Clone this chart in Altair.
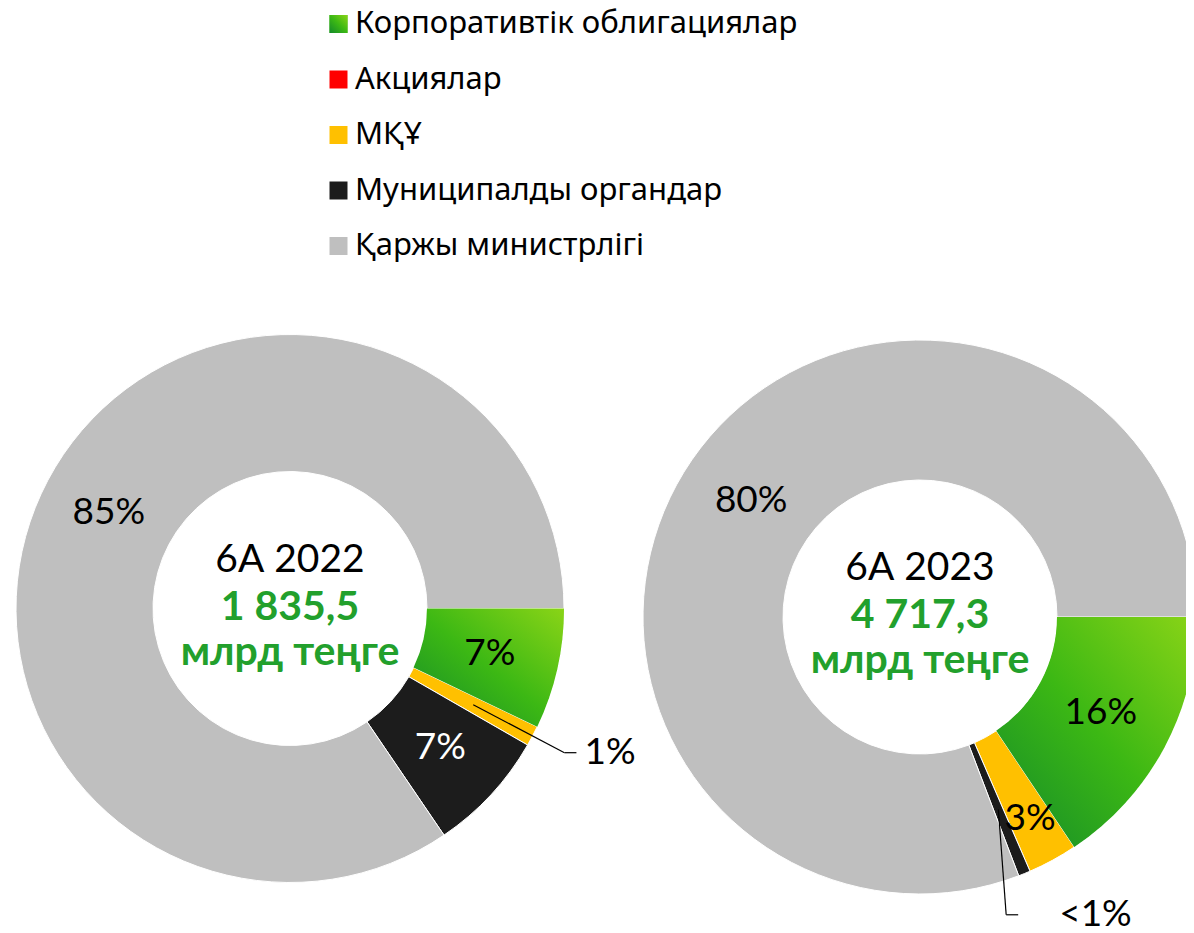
import math
import pandas as pd
import altair as alt

# ---------------- data ----------------
categories = [
    "Корпоративтік облигациялар",
    "Акциялар",
    "МҚҰ",
    "Муниципалды органдар",
    "Қаржы министрлігі",
]
colors = ["#3cb814", "#ff0000", "#ffc000", "#1c1c1c", "#bfbfbf"]
share_2022 = [7.1, 0.0, 1.2, 7.2, 84.5]
share_2023 = [15.6, 0.0, 2.9, 0.7, 80.8]
labels_2022 = ["7%", "", "1%", "7%", "85%"]
labels_2023 = ["16%", "", "3%", "<1%", "80%"]
titles = ["6А 2022", "6А 2023"]
totals = ["1 835,5", "4 717,3"]
unit = "млрд теңге"
callout_cat = ["МҚҰ", "Муниципалды органдар"]

# ---------------- layout ----------------
W, H = 1178, 925
centers = [(282, 600.5), (912, 609)]
outer_r = [274, 277]
inner_r = 137
label_r = 205
label_r_override = {(1, "МҚҰ"): 230}
callout_geom = [  # anchor radius, elbow radius, elbow angle shift (deg), tick, gap
    dict(r0=207, r1=310, dth=0.0, tick=12, gap=8),
    dict(r0=208, r1=310, dth=6.0, tick=12, gap=41),
]
FONT = "Lato"
LEG_FONT = "Noto Sans"
GREEN_TXT = "#22a02c"
PCT_SIZE = 37

green_grad = alt.Gradient(
    gradient="linear",
    stops=[
        alt.GradientStop(color="#8ad417", offset=0),
        alt.GradientStop(color="#3cb814", offset=0.5),
        alt.GradientStop(color="#138a2a", offset=1),
    ],
    x1=1, y1=0, x2=0, y2=1,
)

theta_scale = alt.Scale(domain=[0, 100], range=[math.pi / 2, math.pi / 2 + 2 * math.pi])
color_scale = alt.Scale(domain=categories, range=colors)


def polar(cx, cy, r, pct, shift_deg=0.0):
    th = math.pi / 2 + 2 * math.pi * pct / 100 + math.radians(shift_deg)
    return cx + r * math.sin(th), cy - r * math.cos(th)


layers = []
rule_rows = []
callout_text_rows = []
title_rows = []
bold_rows = []

for d, (shares, labels) in enumerate([(share_2022, labels_2022), (share_2023, labels_2023)]):
    cx, cy = centers[d]
    rows = []
    acc = 0.0
    for cat, v, lab in zip(categories, shares, labels):
        start, end = acc, acc + v
        acc = end
        rows.append(dict(cat=cat, start=start, end=end, mid=(start + end) / 2, label=lab,
                         lr=label_r_override.get((d, cat), label_r),
                         lc="white" if cat == "Муниципалды органдар" else "black"))
    df = pd.DataFrame(rows)
    df_arcs = df[df["end"] > df["start"]]

    base = alt.Chart(df_arcs)
    arcs = base.mark_arc(radius=outer_r[d], radius2=inner_r, stroke="white", strokeWidth=1).encode(
        theta=alt.Theta("start:Q", scale=theta_scale),
        theta2="end:Q",
        color=alt.Color("cat:N", scale=color_scale, legend=None),
        x=alt.value(cx),
        y=alt.value(cy),
    )
    grad = base.transform_filter(alt.datum.cat == categories[0]).mark_arc(
        radius=outer_r[d], radius2=inner_r, fill=green_grad
    ).encode(
        theta=alt.Theta("start:Q", scale=theta_scale),
        theta2="end:Q",
        x=alt.value(cx),
        y=alt.value(cy),
    )
    inside = df[(df["label"] != "") & (df["cat"] != callout_cat[d])]
    txt = alt.Chart(inside).mark_text(font=FONT, fontSize=PCT_SIZE, baseline="middle", align="center").encode(
        theta=alt.Theta("mid:Q", scale=theta_scale),
        radius=alt.Radius("lr:Q", scale=None),
        text="label:N",
        color=alt.Color("lc:N", scale=None),
        x=alt.value(cx),
        y=alt.value(cy),
    )
    layers += [arcs, grad, txt]

    # callout
    row = df[df["cat"] == callout_cat[d]].iloc[0]
    g = callout_geom[d]
    ax, ay = polar(cx, cy, g["r0"], row["mid"])
    ex, ey = polar(cx, cy, g["r1"], row["mid"], g["dth"])
    rule_rows.append(dict(x=ax, y=ay, x2=ex, y2=ey))
    rule_rows.append(dict(x=ex, y=ey, x2=ex + g["tick"], y2=ey))
    callout_text_rows.append(dict(x=ex + g["tick"] + g["gap"], y=ey, label=row["label"]))

    # centre texts
    title_rows.append(dict(t=titles[d], x=cx, y=cy - 37))
    bold_rows.append(dict(t=totals[d], x=cx, y=cy + 11))
    bold_rows.append(dict(t=unit, x=cx, y=cy + 56))

layers.append(alt.Chart(pd.DataFrame(title_rows)).mark_text(
    font=FONT, fontSize=39, color="black", align="center", baseline="alphabetic").encode(
    text="t:N", x=alt.X("x:Q", scale=None), y=alt.Y("y:Q", scale=None)))
layers.append(alt.Chart(pd.DataFrame(bold_rows)).mark_text(
    font=FONT, fontSize=41, fontWeight="bold", color=GREEN_TXT, align="center", baseline="alphabetic").encode(
    text="t:N", x=alt.X("x:Q", scale=None), y=alt.Y("y:Q", scale=None)))

rules = alt.Chart(pd.DataFrame(rule_rows)).mark_rule(color="black", strokeWidth=1.2).encode(
    x=alt.X("x:Q", scale=None), y=alt.Y("y:Q", scale=None), x2="x2:Q", y2="y2:Q")
ctext = alt.Chart(pd.DataFrame(callout_text_rows)).mark_text(
    font=FONT, fontSize=PCT_SIZE, align="left", baseline="middle", color="black").encode(
    x=alt.X("x:Q", scale=None), y=alt.Y("y:Q", scale=None), text="label:N")
layers += [rules, ctext]

# legend
leg = pd.DataFrame(dict(cat=categories))
leg_y = alt.Y("cat:N", sort=categories,
              scale=alt.Scale(type="point", domain=categories, range=[16, 238], padding=0), axis=None)
leg_sq = alt.Chart(leg).mark_square(size=324, opacity=1).encode(
    x=alt.value(330.5), y=leg_y, color=alt.Color("cat:N", scale=color_scale, legend=None))
leg_sq_g = alt.Chart(leg).transform_filter(alt.datum.cat == categories[0]).mark_square(
    size=324, opacity=1, fill=green_grad).encode(x=alt.value(330.5), y=leg_y)
leg_tx = alt.Chart(leg).mark_text(font=LEG_FONT, fontSize=31, align="left", baseline="middle",
                                  color="black").encode(x=alt.value(347), y=leg_y, text="cat:N")
layers += [leg_sq, leg_sq_g, leg_tx]

chart = alt.layer(*layers).resolve_scale(x="independent", y="independent").properties(
    width=W, height=H, padding=0, autosize=alt.AutoSizeParams(type="none")
).configure_view(strokeWidth=0)

chart.save("out.html", embed_options={"renderer": "svg", "actions": False})
